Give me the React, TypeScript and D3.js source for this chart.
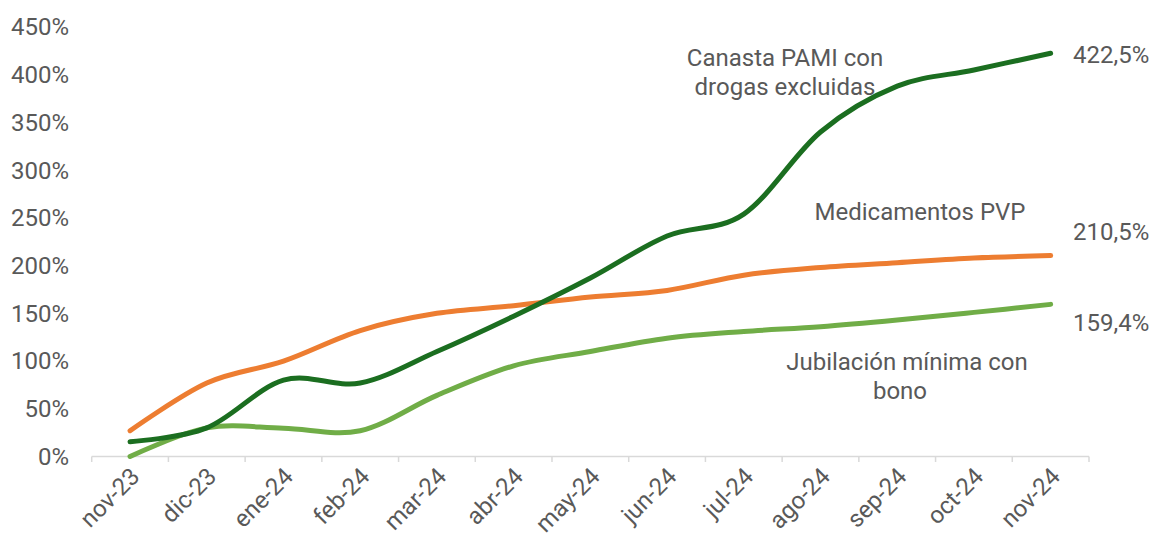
import React from "react";
import * as d3 from "d3";

const months = ["nov-23","dic-23","ene-24","feb-24","mar-24","abr-24","may-24","jun-24","jul-24","ago-24","sep-24","oct-24","nov-24"];
const canastaPami = [15.5, 30, 80, 77, 110, 147, 187, 231, 254, 340, 388, 405, 422.5];
const medicamentosPvp = [27, 77, 100, 132, 150, 158, 167, 174, 190, 198, 203, 208, 210.5];
const jubilacionMinima = [0, 30, 29.5, 27, 64, 95, 110, 124, 131, 136, 143, 151, 159.4];
const yTicks = [0, 50, 100, 150, 200, 250, 300, 350, 400, 450];
const endLabels = ["422,5%", "210,5%", "159,4%"];

const W = 1152, H = 537;
const FONT = "Roboto, 'Noto Sans', sans-serif";
const TXT = "#595959";
const FS = 24;

export default function App() {
  const x = d3.scaleBand<string>().domain(months).range([91.7, 1089]);
  const y = d3.scaleLinear().domain([0, 450]).range([456.5, 27]);
  const cx = (m: string) => (x(m) as number) + x.bandwidth() / 2;
  const line = d3.line<number>()
    .x((_, i) => cx(months[i]))
    .y((v) => y(v))
    .curve(d3.curveCardinal.tension(0));

  const series = [
    { data: jubilacionMinima, color: "#70AD47" },
    { data: medicamentosPvp, color: "#ED7D31" },
    { data: canastaPami, color: "#1B6E20" },
  ];
  const boundaries = d3.range(months.length + 1).map((i) => 91.7 + i * x.step());

  return (
    <svg width={W} height={H} style={{ position: "absolute", left: 0, top: 0, background: "#fff" }} fontFamily={FONT}>
      {yTicks.map((t) => (
        <text key={t} x={69} y={y(t)} dy="0.35em" textAnchor="end" fontSize={FS} fill={TXT}>{t}%</text>
      ))}
      <line x1={91.7} x2={1089} y1={456.5} y2={456.5} stroke="#D9D9D9" strokeWidth={1.5} />
      {boundaries.map((b, i) => (
        <line key={i} x1={b} x2={b} y1={456.5} y2={462} stroke="#D9D9D9" strokeWidth={1.5} />
      ))}
      {months.map((m) => (
        <text key={m} transform={`translate(${cx(m) + 5},${472}) rotate(-45)`} textAnchor="end" dy="0.35em" fontSize={FS} fill={TXT}>{m}</text>
      ))}
      {series.map((s, i) => (
        <path key={i} d={line(s.data) || ""} fill="none" stroke={s.color} strokeWidth={5} strokeLinecap="round" strokeLinejoin="round" />
      ))}
      <text x={1073} y={55} dy="0.35em" fontSize={FS} fill={TXT}>{endLabels[0]}</text>
      <text x={1073} y={232} dy="0.35em" fontSize={FS} fill={TXT}>{endLabels[1]}</text>
      <text x={1073} y={323} dy="0.35em" fontSize={FS} fill={TXT}>{endLabels[2]}</text>
      <text x={785} y={58} dy="0.35em" textAnchor="middle" fontSize={FS} fill={TXT}>Canasta PAMI con</text>
      <text x={785} y={87} dy="0.35em" textAnchor="middle" fontSize={FS} fill={TXT}>drogas excluidas</text>
      <text x={920} y={212} dy="0.35em" textAnchor="middle" fontSize={FS} fill={TXT}>Medicamentos PVP</text>
      <text x={907} y={362} dy="0.35em" textAnchor="middle" fontSize={FS} fill={TXT}>Jubilación mínima con</text>
      <text x={900} y={391} dy="0.35em" textAnchor="middle" fontSize={FS} fill={TXT}>bono</text>
    </svg>
  );
}
